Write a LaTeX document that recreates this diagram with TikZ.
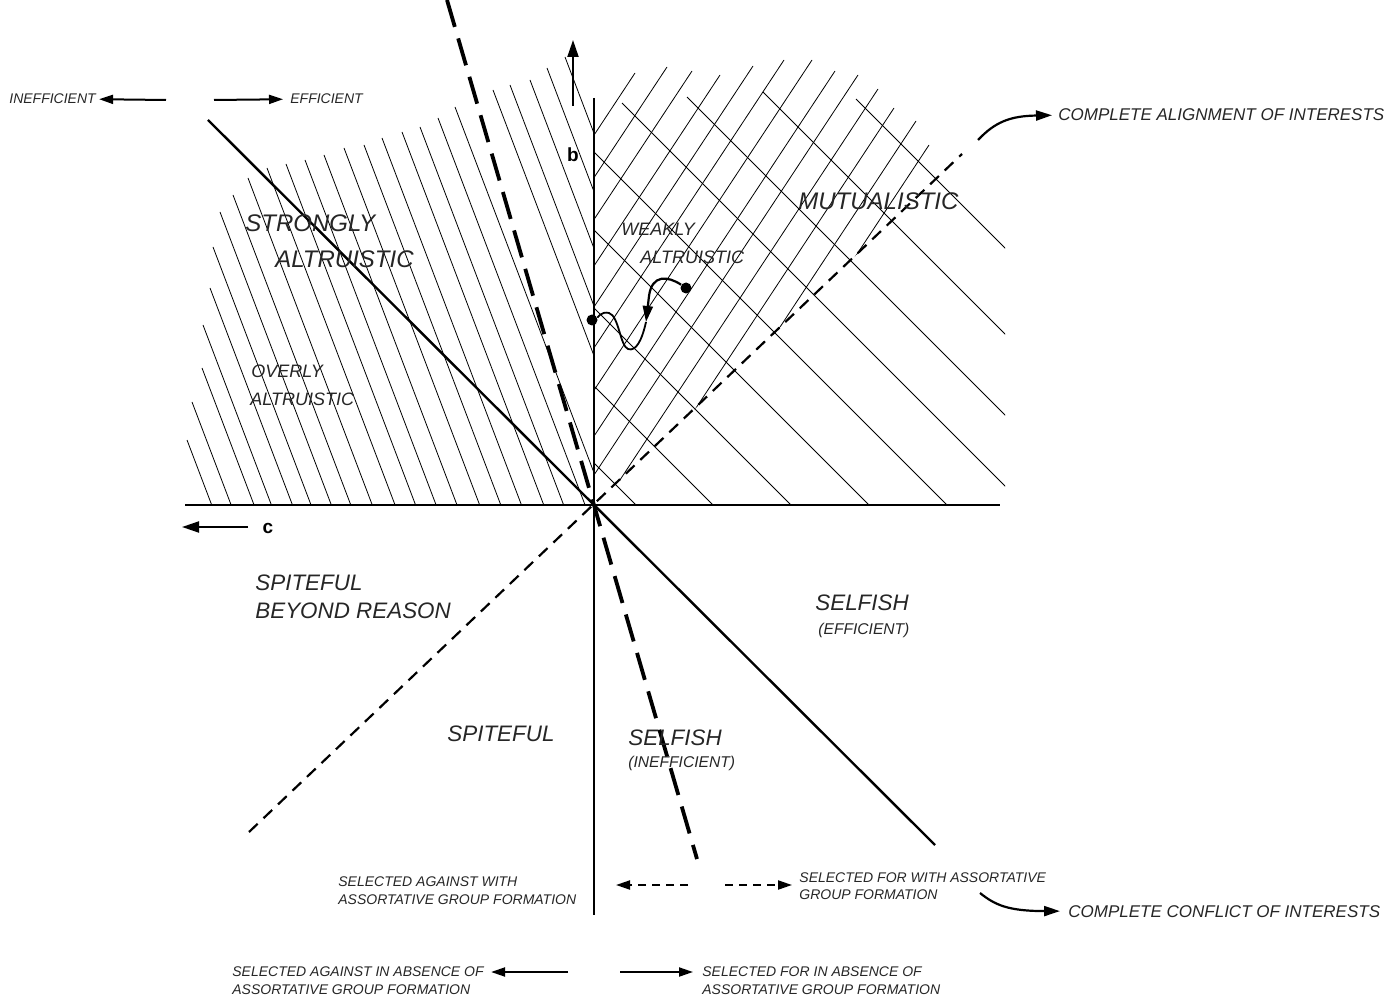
\documentclass[tikz,border=0pt]{standalone}
\usepackage{fontspec}
\setmainfont{Liberation Sans}
\usetikzlibrary{arrows.meta,positioning}

\tikzset{
  hatch/.style = {line width=0.4pt},
  axisline/.style = {line width=1pt},
  effline/.style = {line width=1.2pt},
  assortline/.style = {line width=1.9pt, dash pattern=on 14pt off 6pt},
  alignline/.style = {line width=1.1pt, dash pattern=on 6pt off 4pt},
  axarr/.style = {line width=1pt, -{Triangle[length=8.5pt, width=5.5pt]}},
  arr/.style = {line width=1pt, -{Triangle[length=7pt, width=4.5pt]}},
  dasharr/.style = {arr, dash pattern=on 4pt off 3pt},
  curvearr/.style = {line width=1.1pt, -{Triangle[length=8pt, width=5pt]}},
  wave/.style = {line width=0.9pt},
  dot/.style = {circle, fill=black, inner sep=0pt, minimum size=5.5pt},
  bigregion/.style = {font=\itshape\fontsize{12}{14}\selectfont, anchor=base west, inner sep=0pt, text=black!85},
  midregion/.style = {font=\itshape\fontsize{11.2}{13}\selectfont, anchor=base west, inner sep=0pt, text=black!85},
  smallregion/.style = {font=\itshape\fontsize{9}{11}\selectfont, anchor=base west, inner sep=0pt, text=black!85},
  paren/.style = {font=\itshape\fontsize{7.8}{9}\selectfont, anchor=base west, inner sep=0pt, text=black!85},
  interest/.style = {font=\itshape\fontsize{8.5}{10}\selectfont, anchor=base west, inner sep=0pt, text=black!85},
  note/.style = {font=\itshape\fontsize{7}{8.6}\selectfont, anchor=base west, inner sep=0pt, text=black!85},
  axislabel/.style = {font=\bfseries\fontsize{9.5}{11}\selectfont, inner sep=0pt},
}

\begin{document}
\begin{tikzpicture}[x=0.5pt, y=-0.5pt]
\useasboundingbox (0,0) rectangle (1396,999);

% left hatching
\begin{scope}
  \clip (0,0) rectangle (594,505);
  \draw[hatch] (187,440) -- ++(190,500);
  \draw[hatch] (192,402) -- ++(190,500);
  \draw[hatch] (202,368) -- ++(190,500);
  \draw[hatch] (203,325) -- ++(190,500);
  \draw[hatch] (210,288) -- ++(190,500);
  \draw[hatch] (213,247) -- ++(190,500);
  \draw[hatch] (220,212) -- ++(190,500);
  \draw[hatch] (233,195) -- ++(190,500);
  \draw[hatch] (248,178) -- ++(190,500);
  \draw[hatch] (267,168) -- ++(190,500);
  \draw[hatch] (286,164) -- ++(190,500);
  \draw[hatch] (305,160) -- ++(190,500);
  \draw[hatch] (324,155) -- ++(190,500);
  \draw[hatch] (344,148) -- ++(190,500);
  \draw[hatch] (364,145) -- ++(190,500);
  \draw[hatch] (382,138) -- ++(190,500);
  \draw[hatch] (402,132) -- ++(190,500);
  \draw[hatch] (420,127) -- ++(190,500);
  \draw[hatch] (438,118) -- ++(190,500);
  \draw[hatch] (455,107) -- ++(190,500);
  \draw[hatch] (493,90) -- ++(190,500);
  \draw[hatch] (510,85) -- ++(190,500);
  \draw[hatch] (530,80) -- ++(190,500);
  \draw[hatch] (547,68) -- ++(190,500);
  \draw[hatch] (565,57) -- ++(190,500);
\end{scope}

% right hatching, rising
\begin{scope}
  \clip (594,505) -- (594,0) -- (1100,0) -- (1100,23) -- cycle;
  \draw[hatch] (635,73) -- ++(-330,500);
  \draw[hatch] (667,67) -- ++(-330,500);
  \draw[hatch] (692,71) -- ++(-330,500);
  \draw[hatch] (720,75) -- ++(-330,500);
  \draw[hatch] (753,66) -- ++(-330,500);
  \draw[hatch] (784,60) -- ++(-330,500);
  \draw[hatch] (812,60) -- ++(-330,500);
  \draw[hatch] (835,71) -- ++(-330,500);
  \draw[hatch] (858,75) -- ++(-330,500);
  \draw[hatch] (878,89) -- ++(-330,500);
  \draw[hatch] (894,108) -- ++(-330,500);
  \draw[hatch] (916,121) -- ++(-330,500);
  \draw[hatch] (929,145) -- ++(-330,500);
\end{scope}

% right hatching, falling
\begin{scope}
  \clip (594,0) rectangle (1005,505);
  \draw[hatch] (856,99) -- ++(500,500);
  \draw[hatch] (763,92) -- ++(500,500);
  \draw[hatch] (687,97) -- ++(500,500);
  \draw[hatch] (622,103) -- ++(500,500);
  \draw[hatch] (594,152) -- ++(500,500);
  \draw[hatch] (594,230) -- ++(500,500);
  \draw[hatch] (594,308) -- ++(500,500);
  \draw[hatch] (594,386) -- ++(500,500);
  \draw[hatch] (594,463) -- ++(500,500);
\end{scope}

% axes and boundaries
\draw[axisline] (185,505) -- (1000,505);
\draw[axisline] (594,98) -- (594,915);
\draw[effline] (208,120) -- (935,845);
\draw[assortline] (447,0) -- (697,859);
\draw[alignline] (249,832) -- (962,154);

\coordinate (bT) at (573,106);
\coordinate (bH) at (573,40);
\coordinate (cT) at (248,527);
\coordinate (cH) at (182,527);
\draw[axarr] (bT) -- (bH);
\draw[axarr] (cT) -- (cH);
\node[axislabel] (blbl) at (573,155) {b};
\node[axislabel] (clbl) at (268,528) {c};

% efficiency arrows
\node[note] (ineff) at (9,104) {INEFFICIENT};
\node[note] (eff) at (290,104) {EFFICIENT};
\coordinate (ineffT) at (166,100);
\coordinate (effT) at (214,100);
\draw[arr, shorten >=1.5pt] (ineffT) -- (ineff.east);
\draw[arr, shorten >=3.5pt] (effT) -- (eff.west);

% regions
\node[bigregion] (strong1) at (245,232) {STRONGLY};
\node[bigregion] (strong2) at (275,268) {ALTRUISTIC};
\node[smallregion] (over1) at (251,378) {OVERLY};
\node[smallregion] (over2) at (250,406) {ALTRUISTIC};
\node[smallregion] (weak1) at (621,236) {WEAKLY};
\node[smallregion] (weak2) at (640,264) {ALTRUISTIC};
\node[bigregion] (mutual) at (798,210) {MUTUALISTIC};
\node[midregion] (spite1) at (255,590) {SPITEFUL};
\node[midregion] (spite2) at (255,618) {BEYOND REASON};
\node[midregion] (spite) at (447,741) {SPITEFUL};
\node[midregion] (selfin1) at (628,745) {SELFISH};
\node[paren] (selfin2) at (628,767) {(INEFFICIENT)};
\node[midregion] (selfef1) at (815,610) {SELFISH};
\node[paren] (selfef2) at (818,634) {(EFFICIENT)};

% invasion path
\node[dot] (rdot) at (686,288) {};
\node[dot] (ldot) at (592,320) {};
\coordinate (tip) at (646,322);
\draw[curvearr] (rdot) .. controls (668,276) and (652,274) .. (649,296) -- (tip);
\draw[wave] (tip) .. controls (642,340) and (636,352) .. (628,349)
  .. controls (620,346) and (619,316) .. (609,313)
  .. controls (601,311) and (597,318) .. (ldot);

% interests
\node[interest] (align) at (1058,121) {COMPLETE ALIGNMENT OF INTERESTS};
\node[interest] (conflict) at (1068,917) {COMPLETE CONFLICT OF INTERESTS};
\coordinate (alignT) at (978,140);
\coordinate (conflictT) at (980,893);
\draw[curvearr, shorten >=3pt] (alignT) .. controls (995,122) and (1010,116) .. (align.west);
\draw[curvearr, shorten >=4pt] (conflictT) .. controls (995,905) and (1008,911) .. (conflict.west);

% assortative group formation
\node[note] (agw1) at (338,886) {SELECTED AGAINST WITH};
\node[note] (agw2) at (338,904) {ASSORTATIVE GROUP FORMATION};
\node[note] (fw1) at (799,882) {SELECTED FOR WITH ASSORTATIVE};
\node[note] (fw2) at (799,899) {GROUP FORMATION};
\coordinate (agT) at (688,885);
\coordinate (agH) at (616,885);
\coordinate (fwT) at (725,885);
\coordinate (fwH) at (792,885);
\draw[dasharr] (agT) -- (agH);
\draw[dasharr] (fwT) -- (fwH);

% absence of assortative group formation
\node[note] (aa1) at (232,976) {SELECTED AGAINST IN ABSENCE OF};
\node[note] (aa2) at (232,994) {ASSORTATIVE GROUP FORMATION};
\node[note] (fa1) at (702,976) {SELECTED FOR IN ABSENCE OF};
\node[note] (fa2) at (702,994) {ASSORTATIVE GROUP FORMATION};
\coordinate (aaT) at (568,972);
\coordinate (faT) at (620,972);
\draw[arr, shorten >=3.5pt] (aaT) -- (aa1.east |- aaT);
\draw[arr, shorten >=4.5pt] (faT) -- (fa1.west |- faT);

\end{tikzpicture}
\end{document}
